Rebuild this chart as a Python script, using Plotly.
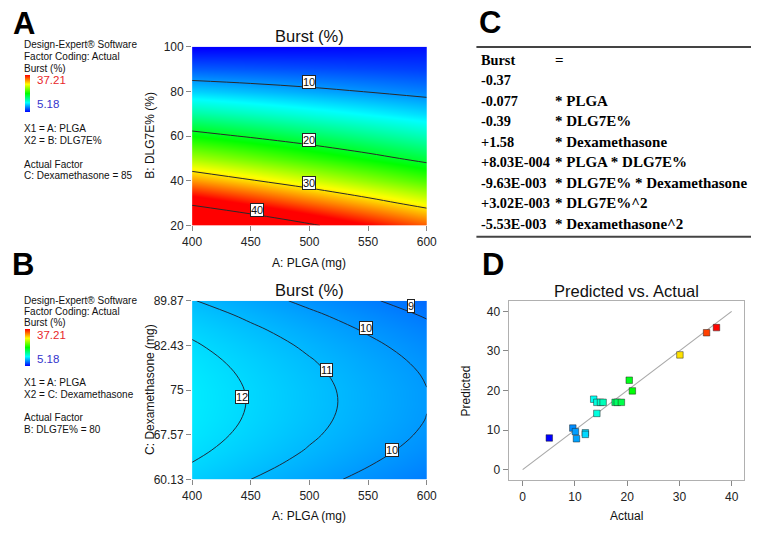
import plotly.graph_objects as go

W, H = 761, 535

# ---------------- data ----------------
BURST_MIN, BURST_MAX = 5.18, 37.21

# Panel A: Burst (%) over PLGA (mg) x DLG7E% (%), Dexamethasone = 85
A_PLGA = [400, 450, 500, 550, 600]
A_DLG7E = [20, 30, 40, 50, 60, 70, 80, 90, 100]
A_BURST = [
    [46.64, 43.59, 40.54, 37.50, 34.45],
    [39.27, 36.63, 33.98, 31.34, 28.69],
    [32.51, 30.27, 28.03, 25.78, 23.54],
    [26.51, 24.67, 22.82, 20.98, 19.14],
    [21.11, 19.67, 18.23, 16.78, 15.34],
    [16.16, 15.12, 14.08, 13.04, 12.00],
    [11.82, 11.18, 10.54, 9.90, 9.26],
    [8.08, 7.84, 7.60, 7.37, 7.13],
    [4.94, 5.11, 5.27, 5.44, 5.60],
]
A_LEVELS = [10, 20, 30, 40]

# Panel B: Burst (%) over PLGA (mg) x Dexamethasone (mg), DLG7E% = 80
B_PLGA = [400, 450, 500, 550, 600]
B_DEXA = [60.13, 62.5, 65, 67.5, 70, 72.5, 75, 77.5, 80, 82.5, 85, 87.5, 89.87]
B_BURST = [
    [11.641, 11.003, 10.365, 9.727, 9.089],
    [11.952, 11.314, 10.676, 10.038, 9.400],
    [12.214, 11.576, 10.938, 10.300, 9.662],
    [12.406, 11.768, 11.130, 10.492, 9.854],
    [12.529, 11.891, 11.253, 10.615, 9.977],
    [12.583, 11.945, 11.307, 10.669, 10.031],
    [12.568, 11.930, 11.292, 10.654, 10.016],
    [12.483, 11.845, 11.207, 10.569, 9.931],
    [12.330, 11.692, 11.054, 10.416, 9.778],
    [12.107, 11.469, 10.831, 10.193, 9.555],
    [11.816, 11.178, 10.540, 9.902, 9.264],
    [11.455, 10.817, 10.179, 9.541, 8.903],
    [11.049, 10.411, 9.773, 9.135, 8.497],
]
B_LEVELS = [9, 10, 10, 11, 12]
B_DEXA_TICKS = [60.13, 67.57, 75, 82.43, 89.87]
B_DEXA_TICKTEXT = ["60.13", "67.57", "75", "82.43", "89.87"]

# Panel C: model equation
C_COEF = ["Burst", "-0.37", "-0.077", "-0.39", "+1.58", "+8.03E-004",
          "-9.63E-003", "+3.02E-003", "-5.53E-003"]
C_TERM = ["=", "", "* PLGA", "* DLG7E%", "* Dexamethasone", "* PLGA * DLG7E%",
          "* DLG7E% * Dexamethasone", "* DLG7E%^2", "* Dexamethasone^2"]

# Panel D: Predicted vs. Actual
D_ACTUAL = [5.1, 9.6, 10.1, 10.3, 12.0, 12.0, 13.6, 14.2, 14.9, 15.4, 14.2,
            17.7, 18.1, 18.9, 20.4, 21.0, 30.1, 35.2, 37.1]
D_PREDICTED = [8.0, 10.5, 9.6, 7.8, 9.3, 8.9, 17.8, 17.0, 17.0, 17.0, 14.2,
               17.0, 17.0, 17.0, 22.6, 19.9, 29.0, 34.6, 35.9]
D_LINE = [0, 40]
D_TICKS = [0, 10, 20, 30, 40]

# ---------------- styles / positions ----------------
RAINBOW = [[0.0, "rgb(0,0,255)"], [0.25, "rgb(0,255,255)"], [0.5, "rgb(0,255,0)"],
           [0.75, "rgb(255,255,0)"], [1.0, "rgb(255,0,0)"]]
SANS = "Liberation Sans, Arial, sans-serif"
SERIF = "Liberation Serif, Times New Roman, serif"


def px(x):
    return x / W


def py(y):
    return 1 - y / H


A_LABEL_POS = [(500, 84.1), (500, 58.2), (500, 39.0), (455, 27.0)]
B_LABEL_POS = [(586.5, 88.96), (547.8, 85.28), (570.7, 65.0), (514.6, 78.4), (442.8, 73.92)]


def cbar(yc):
    return dict(x=px(15), xanchor="left", y=py(yc), yanchor="middle",
                len=37, lenmode="pixels", thickness=5, thicknessmode="pixels",
                xpad=0, ypad=0, outlinewidth=0, showticklabels=False, ticks="")


fig = go.Figure()

# Panel A
fig.add_trace(go.Heatmap(x=A_PLGA, y=A_DLG7E, z=A_BURST, zsmooth="best",
                         colorscale=RAINBOW, zmin=BURST_MIN, zmax=BURST_MAX,
                         showscale=True, colorbar=cbar(88.5), hoverinfo="skip",
                         xaxis="x", yaxis="y"))
fig.add_trace(go.Contour(x=A_PLGA, y=A_DLG7E, z=A_BURST,
                         contours=dict(coloring="none", start=min(A_LEVELS),
                                       end=max(A_LEVELS), size=10),
                         line=dict(color="#2a2a2a", width=1), showscale=False,
                         hoverinfo="skip", xaxis="x", yaxis="y"))
# Panel B
fig.add_trace(go.Heatmap(x=B_PLGA, y=B_DEXA, z=B_BURST, zsmooth="best",
                         colorscale=RAINBOW, zmin=BURST_MIN, zmax=BURST_MAX,
                         showscale=True, colorbar=cbar(350), hoverinfo="skip",
                         xaxis="x2", yaxis="y2"))
fig.add_trace(go.Contour(x=B_PLGA, y=B_DEXA, z=B_BURST,
                         contours=dict(coloring="none", start=min(B_LEVELS),
                                       end=max(B_LEVELS), size=1),
                         line=dict(color="#1e2a3a", width=1), showscale=False,
                         hoverinfo="skip", xaxis="x2", yaxis="y2"))
# Panel D
fig.add_trace(go.Scatter(x=D_LINE, y=D_LINE, mode="lines",
                         line=dict(color="#a8a8a8", width=1.2),
                         hoverinfo="skip", xaxis="x3", yaxis="y3"))
fig.add_trace(go.Scatter(x=D_ACTUAL, y=D_PREDICTED, mode="markers",
                         marker=dict(symbol="square", size=6.5, color=D_ACTUAL,
                                     colorscale=RAINBOW, cmin=BURST_MIN, cmax=BURST_MAX,
                                     line=dict(color="rgba(30,30,30,0.6)", width=0.8)),
                         xaxis="x3", yaxis="y3"))

tickfont = dict(family=SANS, size=12, color="#222")
common_ax = dict(showgrid=False, zeroline=False, ticks="outside", ticklen=5,
                 tickcolor="#888", tickfont=tickfont)

annotations = []


def note(x, y, text, size=10, color="#111", xanchor="left", bold=False,
         family=SANS, angle=0):
    annotations.append(dict(x=px(x), y=py(y), xref="paper", yref="paper",
                            text=f"<b>{text}</b>" if bold else text,
                            showarrow=False, xanchor=xanchor, yanchor="middle",
                            textangle=angle,
                            font=dict(family=family, size=size, color=color)))


# Panel letters
note(14.7, 17, "A", size=31, color="black", xanchor="center", bold=True)
note(13, 264, "B", size=31, color="black", xanchor="center", bold=True)
note(493, 16, "C", size=31, color="black", xanchor="center", bold=True)
note(496, 264.5, "D", size=31, color="black", xanchor="center", bold=True)

# Side legends
LEG_A = [(39, "Design-Expert® Software"), (51, "Factor Coding: Actual"), (63, "Burst (%)"),
         (125, "X1 = A: PLGA"), (137, "X2 = B: DLG7E%"), (161.5, "Actual Factor"),
         (173.5, "C: Dexamethasone = 85")]
LEG_B = [(301, "Design-Expert® Software"), (312.5, "Factor Coding: Actual"), (324, "Burst (%)"),
         (386, "X1 = A: PLGA"), (398, "X2 = C: Dexamethasone"), (422, "Actual Factor"),
         (433.5, "B: DLG7E% = 80")]
for yy, t in LEG_A + LEG_B:
    note(12.5, yy, t)
for top, bot in [(75, 100), (337, 361)]:
    note(25.5, top, f"{BURST_MAX:.2f}", size=11.5, color="#e8262a")
    note(25.5, bot, f"{BURST_MIN:.2f}", size=11.5, color="#3434cc")

# Titles and axis titles
note(307.5, 30, "Burst (%)", size=16.5, xanchor="center")
note(307.5, 291, "Burst (%)", size=16.5, xanchor="center")
note(633, 292, "Predicted vs. Actual", size=16.5, xanchor="center")
note(307.5, 263, "A: PLGA (mg)", size=12, xanchor="center")
note(307.5, 523, "A: PLGA (mg)", size=12, xanchor="center")
note(633, 523, "Actual", size=12, xanchor="center")
note(143, 132, "B: DLG7E% (%)", size=12, xanchor="center", angle=-90)
note(143, 393, "C: Dexamethasone (mg)", size=12, xanchor="center", angle=-90)
note(468, 394, "Predicted", size=12, xanchor="center", angle=-90)

# Contour labels
for (lx, ly), lv in zip(A_LABEL_POS, A_LEVELS):
    annotations.append(dict(x=lx, y=ly, xref="x", yref="y", text=str(lv), showarrow=False,
                            bgcolor="white", bordercolor="#222", borderwidth=1, borderpad=0,
                            font=dict(family=SANS, size=11, color="#111")))
for (lx, ly), lv in zip(B_LABEL_POS, B_LEVELS):
    annotations.append(dict(x=lx, y=ly, xref="x2", yref="y2", text=str(lv), showarrow=False,
                            bgcolor="white", bordercolor="#222", borderwidth=1, borderpad=0,
                            font=dict(family=SANS, size=11, color="#111")))

# Panel C table
for i, (cf, tm) in enumerate(zip(C_COEF, C_TERM)):
    yy = 54 + i * 21.1
    note(482, yy, cf, size=14.3, color="black", bold=True, family=SERIF)
    if tm:
        note(558, yy, tm, size=15, color="black", bold=True, family=SERIF)

shapes = [
    dict(type="line", xref="paper", yref="paper", x0=px(479), x1=px(761),
         y0=py(41), y1=py(41), line=dict(color="#444", width=2)),
    dict(type="line", xref="paper", yref="paper", x0=px(479), x1=px(761),
         y0=py(236), y1=py(236), line=dict(color="#444", width=2)),
]

fig.update_layout(
    width=W, height=H, margin=dict(l=0, r=0, t=0, b=0),
    paper_bgcolor="white", plot_bgcolor="white", showlegend=False,
    annotations=annotations, shapes=shapes,
    xaxis=dict(domain=[px(187), px(428)], range=[400, 600], tickvals=A_PLGA,
               anchor="y", **common_ax),
    yaxis=dict(domain=[py(224.3), py(40.7)], range=[20, 100],
               tickvals=[20, 40, 60, 80, 100], anchor="x", **common_ax),
    xaxis2=dict(domain=[px(187), px(428)], range=[400, 600], tickvals=B_PLGA,
                anchor="y2", **common_ax),
    yaxis2=dict(domain=[py(485), py(301.7)], range=[60.13, 89.87],
                tickvals=B_DEXA_TICKS, ticktext=B_DEXA_TICKTEXT, anchor="x2", **common_ax),
    xaxis3=dict(domain=[px(512), px(754)], range=[-2.7, 42.4], tickvals=D_TICKS,
                anchor="y3", showline=True, mirror=True, linecolor="#b0b0b0",
                **common_ax),
    yaxis3=dict(domain=[py(486), py(302)], range=[-2.7, 42.6], tickvals=D_TICKS,
                anchor="x3", showline=True, mirror=True, linecolor="#b0b0b0",
                **common_ax),
)

fig.write_html("out.html", config={"displayModeBar": False},
               post_script="document.body.style.margin='0';document.body.style.overflow='hidden';")
